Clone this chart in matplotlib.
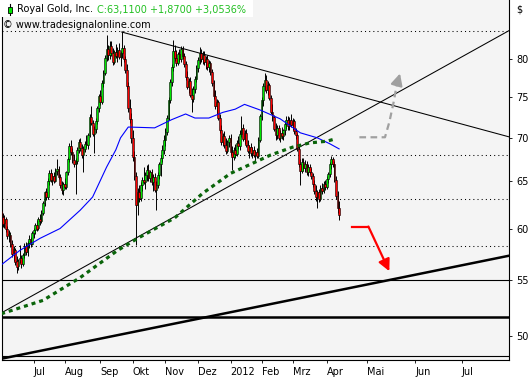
import numpy as np
import pandas as pd
import matplotlib
matplotlib.use('Agg')
from matplotlib import pyplot as plt
from matplotlib.patches import Rectangle
from matplotlib.lines import Line2D
from matplotlib.ticker import NullLocator


W, H = 532, 380
FS = 7

# trading days shown (Jun 2011 .. Apr 2012)
first_day = '2011-06-02'
last_day = '2012-04-13'
holidays = ['2011-07-04', '2011-09-05', '2011-11-24', '2011-12-26',
            '2012-01-02', '2012-01-16', '2012-02-20', '2012-04-06']

# daily candles
opens = [61.8, 61.2, 60.6, 61.0, 59.9, 59.3, 59.3, 58.4, 57.6, 57.8,
         56.8, 56.3, 56.9, 57.1, 56.5, 57.4, 58.2, 57.7, 58.5, 58.9,
         58.4, 59.5, 59.8, 60.4, 60.1, 61.0, 60.8, 61.6, 62.7, 63.8,
         63.3, 65.1, 65.9, 65.2, 65.6, 65.0, 66.2, 66.4, 65.5, 64.6,
         64.1, 64.7, 64.4, 66.0, 67.5, 69.0, 68.3, 67.4, 66.9, 67.3,
         68.6, 69.5, 68.8, 68.0, 68.7, 69.3, 69.1, 70.4, 72.5, 71.8,
         70.5, 71.1, 72.0, 73.6, 75.1, 74.4, 76.9, 78.2, 80.2, 81.4,
         80.6, 81.9, 80.9, 79.6, 81.0, 80.5, 81.3, 80.3, 80.8, 81.6,
         80.0, 78.6, 76.5, 73.6, 72.3, 70.0, 67.8, 65.6, 62.4, 63.8,
         63.2, 64.6, 65.2, 64.9, 65.7, 66.3, 65.4, 66.0, 64.9, 65.5,
         64.1, 64.6, 65.7, 66.9, 67.7, 68.6, 69.8, 70.7, 72.4, 74.7,
         77.0, 78.9, 81.1, 80.2, 79.5, 80.7, 80.0, 81.4, 80.4, 79.3,
         77.6, 76.3, 77.1, 75.3, 74.8, 76.0, 77.4, 78.8, 79.9, 80.8,
         80.0, 80.6, 79.6, 80.1, 78.9, 79.5, 78.3, 76.8, 75.1, 73.9,
         74.4, 72.4, 70.9, 69.5, 70.2, 69.1, 68.5, 69.5, 70.0, 68.3,
         67.8, 68.6, 68.1, 69.4, 69.0, 70.5, 71.2, 69.9, 70.6, 69.2,
         68.5, 68.9, 68.2, 68.6, 68.0, 68.3, 67.9, 69.8, 72.6, 74.6,
         76.4, 77.3, 75.9, 76.6, 74.9, 73.2, 72.5, 71.1, 70.3, 71.2,
         70.0, 70.6, 70.2, 70.9, 71.7, 72.2, 71.4, 72.1, 71.6, 72.0,
         70.8, 70.3, 68.7, 66.9, 66.2, 67.2, 66.5, 67.0, 66.0, 66.6,
         66.1, 65.6, 64.7, 64.0, 63.3, 63.8, 63.1, 64.3, 63.9, 64.7,
         64.4, 65.3, 65.8, 66.9, 67.5, 66.9, 65.2, 63.4, 62.1]
highs = [62.3, 61.6, 61.4, 61.2, 60.3, 59.8, 59.6, 58.8, 58.2, 58.0,
         57.3, 57.0, 58.3, 57.4, 57.6, 58.5, 58.6, 58.7, 59.3, 59.1,
         59.7, 60.1, 60.6, 60.9, 61.2, 61.5, 61.9, 62.9, 64.0, 64.3,
         65.4, 66.3, 66.4, 65.9, 66.0, 66.5, 67.5, 66.7, 65.8, 65.1,
         64.9, 65.4, 66.2, 67.8, 69.4, 69.7, 68.8, 68.1, 67.6, 68.9,
         69.9, 70.0, 69.3, 69.0, 69.6, 70.3, 70.6, 72.9, 73.9, 72.2,
         71.4, 72.4, 73.9, 75.4, 75.9, 77.2, 78.6, 80.6, 83.4, 82.0,
         82.6, 82.5, 81.6, 81.3, 82.1, 81.7, 82.3, 81.2, 83.9, 82.0,
         80.5, 79.4, 77.0, 74.8, 73.0, 70.9, 68.5, 66.0, 64.3, 64.6,
         64.9, 65.5, 66.6, 66.0, 66.8, 66.9, 66.3, 66.4, 65.8, 65.9,
         65.0, 66.0, 67.2, 68.0, 69.1, 70.3, 71.2, 72.8, 75.0, 77.4,
         79.3, 82.7, 82.0, 81.3, 81.0, 81.4, 81.8, 81.9, 80.9, 79.8,
         78.4, 77.5, 77.6, 76.2, 76.4, 77.8, 79.2, 80.3, 81.7, 81.4,
         81.1, 81.2, 80.4, 80.6, 79.9, 79.8, 78.7, 77.3, 75.9, 74.8,
         74.7, 72.9, 71.6, 70.6, 70.8, 70.0, 69.8, 70.4, 70.5, 69.0,
         68.9, 69.3, 69.8, 70.2, 70.9, 72.6, 71.7, 71.0, 71.1, 69.7,
         69.2, 69.4, 68.9, 69.0, 68.6, 68.8, 70.1, 72.9, 75.0, 76.8,
         78.2, 77.9, 77.1, 76.9, 75.3, 74.1, 72.8, 71.8, 71.5, 71.6,
         70.9, 71.3, 71.1, 72.0, 72.6, 72.7, 72.5, 72.9, 72.4, 72.3,
         71.2, 70.6, 69.0, 67.5, 67.6, 67.7, 67.4, 67.3, 66.9, 67.0,
         66.5, 65.9, 65.2, 64.6, 64.1, 64.2, 64.6, 64.8, 65.0, 65.2,
         65.6, 66.0, 67.2, 67.9, 67.8, 67.3, 65.6, 64.0, 62.9]
lows = [60.9, 60.2, 60.1, 59.6, 58.9, 58.6, 58.1, 57.2, 56.8, 56.4,
        55.6, 55.9, 56.6, 56.1, 56.3, 57.1, 57.4, 57.3, 58.0, 58.1,
        58.3, 59.0, 59.4, 59.7, 59.8, 60.4, 60.6, 61.4, 62.3, 63.0,
        63.1, 64.6, 64.9, 64.6, 64.8, 64.9, 65.7, 65.3, 64.3, 63.6,
        63.5, 64.2, 64.2, 65.7, 67.2, 68.0, 67.1, 66.6, 63.6, 67.0,
        68.2, 68.4, 67.6, 66.0, 68.3, 68.8, 68.7, 70.1, 71.6, 70.2,
        68.2, 70.6, 71.7, 73.2, 74.0, 74.2, 76.3, 77.9, 79.8, 79.9,
        80.1, 80.4, 79.2, 79.3, 80.2, 79.6, 80.0, 79.1, 80.2, 79.7,
        78.2, 76.1, 73.2, 71.8, 69.4, 67.3, 65.2, 58.3, 61.4, 62.8,
        62.9, 63.9, 64.7, 64.2, 65.1, 65.0, 64.9, 64.6, 64.0, 63.8,
        61.9, 64.3, 65.3, 65.6, 67.2, 68.1, 69.0, 70.3, 72.1, 74.3,
        76.5, 78.4, 79.8, 79.1, 79.2, 79.6, 79.7, 80.1, 78.9, 77.2,
        76.0, 75.6, 75.0, 73.1, 74.4, 75.6, 77.0, 78.3, 79.3, 79.6,
        79.4, 79.2, 78.7, 78.5, 78.3, 77.9, 76.4, 74.8, 73.5, 72.9,
        72.1, 70.6, 69.2, 69.0, 68.8, 68.1, 68.2, 68.9, 68.0, 66.3,
        67.4, 67.7, 67.9, 68.7, 68.6, 70.1, 69.6, 69.3, 68.9, 68.2,
        67.7, 67.9, 67.6, 67.8, 67.3, 67.6, 67.7, 69.5, 72.2, 73.9,
        75.8, 75.5, 75.3, 74.6, 72.9, 72.0, 70.8, 69.8, 69.9, 69.7,
        69.5, 69.9, 69.8, 70.4, 71.1, 71.0, 71.0, 71.3, 70.9, 70.5,
        69.9, 68.4, 66.6, 64.6, 65.9, 66.2, 66.0, 65.7, 65.6, 65.8,
        65.3, 64.4, 63.6, 62.9, 62.1, 62.8, 62.9, 63.6, 63.7, 64.1,
        64.2, 64.8, 65.5, 66.4, 66.6, 64.9, 63.1, 61.6, 60.9]
closes = [61.2, 60.5, 61.0, 59.9, 59.2, 59.4, 58.3, 57.5, 57.9, 56.7,
          56.2, 56.8, 57.1, 56.5, 57.4, 58.2, 57.7, 58.5, 58.9, 58.4,
          59.5, 59.8, 60.4, 60.0, 61.0, 60.8, 61.6, 62.7, 63.8, 63.3,
          65.1, 65.9, 65.2, 65.6, 65.0, 66.2, 66.4, 65.5, 64.6, 64.1,
          64.7, 64.4, 66.0, 67.5, 69.0, 68.3, 67.4, 66.9, 67.3, 68.6,
          69.5, 68.8, 68.0, 68.7, 69.3, 69.1, 70.4, 72.5, 71.8, 70.5,
          71.1, 72.0, 73.6, 75.1, 74.4, 76.9, 78.2, 80.2, 81.4, 80.6,
          81.9, 80.9, 79.6, 81.0, 80.5, 81.3, 80.3, 80.8, 81.6, 80.0,
          78.6, 76.5, 73.6, 72.3, 70.0, 67.8, 65.6, 62.4, 63.8, 63.2,
          64.6, 65.2, 64.9, 65.7, 66.3, 65.4, 66.0, 64.9, 65.5, 64.1,
          64.6, 65.7, 66.9, 67.7, 68.6, 69.8, 70.7, 72.4, 74.7, 77.0,
          78.9, 81.1, 80.2, 79.5, 80.7, 80.0, 81.4, 80.4, 79.3, 77.6,
          76.3, 77.1, 75.3, 74.8, 76.0, 77.4, 78.8, 79.9, 80.8, 80.0,
          80.6, 79.6, 80.1, 78.9, 79.5, 78.3, 76.8, 75.1, 73.9, 74.4,
          72.4, 70.9, 69.5, 70.2, 69.1, 68.5, 69.5, 70.0, 68.3, 67.8,
          68.6, 68.1, 69.4, 69.0, 70.5, 71.2, 69.9, 70.6, 69.2, 68.5,
          68.9, 68.2, 68.6, 68.0, 68.3, 67.9, 69.8, 72.6, 74.6, 76.4,
          77.3, 75.9, 76.6, 74.9, 73.2, 72.5, 71.1, 70.3, 71.2, 70.0,
          70.6, 70.2, 70.9, 71.7, 72.2, 71.4, 72.1, 71.6, 72.0, 70.8,
          70.3, 68.7, 66.9, 66.2, 67.2, 66.5, 67.0, 66.0, 66.6, 66.1,
          65.6, 64.7, 64.0, 63.3, 63.8, 63.1, 64.3, 63.9, 64.7, 64.4,
          65.3, 65.8, 66.9, 67.5, 66.9, 65.2, 63.4, 62.1, 61.4]

# moving averages, sampled at bar numbers
ma_fast_bar = [0, 12, 25, 38, 51, 59, 68, 74, 77, 82, 99, 110, 119, 125,
               134, 143, 151, 157, 167, 180, 193, 204, 212, 218]
ma_fast = [56.4, 57.8, 59.0, 60.0, 61.9, 63.3, 66.6, 68.6, 70.0, 71.3,
           71.2, 72.2, 72.9, 72.4, 72.4, 73.1, 73.5, 74.1, 73.4, 72.3,
           70.6, 70.0, 69.3, 68.7]
ma_slow_bar = [0, 27, 51, 75, 88, 112, 130, 148, 163, 174, 188, 199, 210, 216]
ma_slow = [51.9, 53.1, 55.2, 57.8, 59.0, 61.1, 63.7, 65.9, 67.1, 68.0,
           68.9, 69.4, 69.6, 69.9]

# drawn levels and trend lines
dotted_levels = [83.95, 68.0, 63.05, 58.2]
thin_levels = [55.0, 48.3]
thick_levels = [51.6]
up_thin_bar, up_thin_val = [0, 328], [51.97, 84.05]
up_thick_bar, up_thick_val = [0, 328], [48.08, 57.3]
down_bar, down_val = [77.8, 328], [83.8, 70.1]

# scenario arrows
bull_bar = [231.1, 247.6, 250.4, 253.0, 255.2, 257.3]
bull_val = [70.07, 70.07, 71.9, 74.2, 76.6, 78.1]
bear_bar = [226.2, 236.9, 250.4]
bear_val = [60.2, 60.2, 55.8]

month_starts = ['2011-07-01', '2011-08-01', '2011-09-01', '2011-10-01',
                '2011-11-01', '2011-12-01', '2012-01-01', '2012-02-01',
                '2012-03-01', '2012-04-01', '2012-05-01', '2012-06-01',
                '2012-07-01']
month_labels = ['Jul', 'Aug', 'Sep', 'Okt', 'Nov', 'Dez', '2012', 'Feb',
                'Mrz', 'Apr', 'Mai', 'Jun', 'Jul']
price_ticks = [50, 55, 60, 65, 70, 75, 80]


days = pd.bdate_range(first_day, last_day).drop(pd.to_datetime(holidays))


def bar_pos(d):
    # trading days for the past, calendar days after the last bar
    d = pd.Timestamp(d)
    if d <= days[-1]:
        return int(np.searchsorted(days, d))
    return len(days) - 1 + (d - days[-1]).days


def fpx(x, y):
    return x / W, 1 - y / H


o = np.array(opens)
h = np.array(highs)
l = np.array(lows)
c = np.array(closes)
x = np.arange(len(c))
up = c >= o

fig = plt.figure(figsize=(W / 100, H / 100), dpi=100)
fig.patch.set_facecolor('white')
ax = fig.add_axes([1.5 / W, 20 / H, 507.5 / W, 360 / H])
ax.set_facecolor('#f4f4f4')
ax.set_yscale('log')
ax.set_ylim(47.98, 88.49)
ax.set_xlim(0.226, 327.6)

for v in dotted_levels:
    ax.axhline(v, color='black', lw=0.75, ls=(0, (1, 3)), zorder=1)

ax.vlines(x, l, h, color='black', lw=0.7, zorder=2)
ax.bar(x[up], (c - o)[up], bottom=o[up], width=1.15, color='#00e600',
       edgecolor='black', linewidth=0.4, zorder=3)
ax.bar(x[~up], (c - o)[~up], bottom=o[~up], width=1.15, color='#ff0000',
       edgecolor='black', linewidth=0.4, zorder=3)

for v in thin_levels:
    ax.axhline(v, color='black', lw=0.8, zorder=4)
for v in thick_levels:
    ax.axhline(v, color='black', lw=1.8, zorder=4)
ax.plot(up_thin_bar, up_thin_val, color='black', lw=0.75, zorder=4)
ax.plot(up_thick_bar, up_thick_val, color='black', lw=1.8, zorder=4)
ax.plot(down_bar, down_val, color='black', lw=0.75, zorder=4)

ax.plot(ma_fast_bar, ma_fast, color='#0000ff', lw=0.8, zorder=5)
ax.plot(ma_slow_bar, ma_slow, color='#0a640a', lw=2.3,
        ls=(0, (1.25, 1.25)), zorder=5)

# projected scenarios
ax.plot(bull_bar[:-1], bull_val[:-1], color='#a0a0a0', lw=1.6,
        ls=(0, (3, 2)), zorder=5)
ax.annotate('', xy=(bull_bar[-1], bull_val[-1]),
            xytext=(bull_bar[-2], bull_val[-2]),
            arrowprops=dict(arrowstyle='-|>,head_length=0.7,head_width=0.35',
                            color='#a0a0a0', lw=1.6, shrinkA=0, shrinkB=0),
            zorder=5)
ax.plot(bear_bar[:-1], bear_val[:-1], color='#ff0000', lw=1.6, zorder=5)
ax.annotate('', xy=(bear_bar[-1], bear_val[-1]),
            xytext=(bear_bar[-2], bear_val[-2]),
            arrowprops=dict(arrowstyle='-|>,head_length=0.7,head_width=0.35',
                            color='#ff0000', lw=1.6, shrinkA=0, shrinkB=0),
            zorder=5)

# axes
ax.yaxis.tick_right()
ax.set_yticks(price_ticks)
ax.set_yticklabels([str(t) for t in price_ticks])
ax.yaxis.set_minor_locator(NullLocator())
ax.tick_params(axis='y', direction='out', length=2.5, width=0.6, pad=2.5,
               labelsize=FS, colors='black')
ax.set_xticks([bar_pos(d) for d in month_starts])
ax.set_xticklabels(month_labels)
for lab in ax.get_xticklabels():
    lab.set_ha('left')
ax.tick_params(axis='x', direction='out', length=2.5, width=0.6, pad=2.5,
               labelsize=FS, colors='black')
ax.spines['top'].set_visible(False)
for s in ['left', 'right', 'bottom']:
    ax.spines[s].set_linewidth(0.8)
    ax.spines[s].set_color('black')

fig.text(*fpx(516, 10), '$', fontsize=FS, ha='left', va='center')

# header
fig.patches.append(Rectangle(fpx(0, 17), 253 / W, 17 / H, facecolor='white',
                             edgecolor='none', transform=fig.transFigure,
                             zorder=10))
fig.lines.append(Line2D([10 / W, 10 / W], [1 - 4 / H, 1 - 15 / H],
                        color='black', lw=0.8, transform=fig.transFigure,
                        zorder=11))
fig.patches.append(Rectangle(fpx(8, 13), 4 / W, 6 / H, facecolor='#00e600',
                             edgecolor='black', lw=0.6,
                             transform=fig.transFigure, zorder=12))
fig.text(*fpx(17, 9.5), 'Royal Gold, Inc.', fontsize=FS, ha='left',
         va='center', zorder=13)
fig.text(*fpx(97, 9.5), 'C:63,1100 +1,8700 +3,0536%', fontsize=FS,
         color='#22c022', ha='left', va='center', zorder=13)
fig.text(*fpx(3, 25.5), '\u00a9 www.tradesignalonline.com', fontsize=FS,
         ha='left', va='center', zorder=13)

fig.savefig('out.png', dpi=100)
plt.close(fig)
